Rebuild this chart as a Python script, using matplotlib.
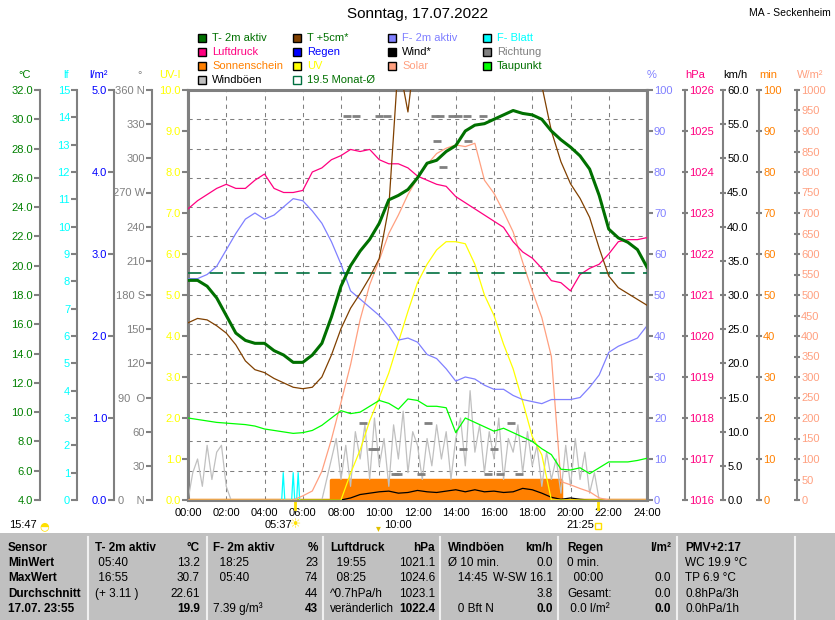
import numpy as np
import matplotlib.pyplot as plt
from matplotlib.patches import Rectangle

plt.rcParams['font.family'] = ['Liberation Sans', 'DejaVu Sans']

W, H = 835, 620

# --- data (half-hourly unless noted) ---
hours = np.arange(0, 24.01, 0.5)

t2m = [19.0, 19.0, 18.6, 17.8, 16.6, 15.4, 14.9, 14.7, 14.7, 14.2, 13.9, 13.4, 13.4,
       13.9, 14.7, 16.5, 18.6, 20.0, 21.0, 21.8, 22.9, 24.5, 24.8, 25.2, 26.0,
       27.0, 27.2, 27.8, 28.2, 29.2, 29.6, 29.7, 30.0, 30.3, 30.6, 30.4, 30.3,
       30.0, 29.2, 28.6, 28.1, 27.5, 26.6, 24.8, 22.5, 21.9, 21.6, 21.1, 19.9]
t5cm = [16.1, 16.4, 16.3, 15.9, 15.4, 14.6, 13.5, 12.9, 12.7, 12.3, 12.0, 11.7, 11.6,
        11.7, 12.4, 13.9, 15.7, 17.1, 18.1, 19.2, 20.5, 24.0, 34.0, 30.5, 36.0,
        38.0, 39.0, 40.0, 41.0, 41.0, 41.0, 40.0, 39.0, 38.0, 37.0, 36.0, 35.0,
        32.3, 29.2, 27.1, 25.6, 24.6, 23.3, 21.2, 19.3, 18.5, 18.1, 17.7, 17.3]
humidity = [54, 54, 55, 57, 61, 65, 68.5, 70, 68.5, 69.5, 71.5, 73.5, 73,
            70.5, 67.5, 63, 57.5, 51, 49, 47, 45, 42.5, 39, 39.5, 38.5,
            35.5, 34.5, 32, 29, 30, 29.5, 28, 27, 27, 25.5, 24.5, 24,
            23.5, 24.5, 24.5, 24.5, 25, 27.5, 30.5, 36, 37.5, 38.5, 39.5, 42.5]
pressure = [1023.1, 1023.3, 1023.45, 1023.6, 1023.7, 1023.6, 1023.6, 1023.8, 1023.95,
            1023.6, 1023.5, 1023.5, 1023.55,
            1024.0, 1024.1, 1024.3, 1024.4, 1024.55, 1024.5, 1024.55, 1024.3, 1024.2,
            1024.2, 1024.1, 1023.9,
            1023.8, 1023.7, 1023.65, 1023.4, 1023.25, 1023.1, 1022.95, 1022.8, 1022.65,
            1022.3, 1022.05, 1021.9,
            1021.65, 1021.35, 1021.3, 1021.1, 1021.5, 1021.65, 1021.75, 1022.0, 1022.3,
            1022.35, 1022.35, 1022.4]
solar = [0, 0, 0, 0, 0, 0, 0, 0, 0, 0, 0, 0, 10,
         22, 70, 148, 238, 330, 440, 525, 585, 650, 695, 745, 785,
         818, 845, 858, 866, 862, 870, 780, 748, 703, 654, 580, 510,
         445, 350, 45, 37, 28, 20, 5, 0, 0, 0, 0, 0]
uv = [0, 0, 0, 0, 0, 0, 0, 0, 0, 0, 0, 0, 0,
      0, 0, 0, 0, 0.65, 1.22, 1.93, 2.5, 3.1, 3.85, 4.6, 5.3,
      5.75, 6.1, 6.3, 6.3, 6.25, 5.75, 5.0, 4.5, 3.8, 3.2, 2.4, 1.55,
      1.1, 0, 0, 0, 0, 0, 0, 0, 0, 0, 0, 0]
dewpoint = [9.6, 9.5, 9.4, 9.3, 9.25, 9.2, 9.15, 9.05, 8.85, 8.75, 8.65, 8.55, 8.6,
            8.75, 9.1, 9.6, 10.1, 9.9, 10.0, 10.4, 10.8, 10.6, 10.2, 10.9, 10.8,
            10.4, 10.4, 10.3, 8.6, 9.6, 9.3, 9.0, 8.7, 8.9, 8.6, 8.3, 8.0,
            7.5, 7.1, 6.1, 6.05, 6.2, 5.8, 6.2, 6.6, 6.6, 6.6, 6.7, 6.85]
wind = [0, 0, 0, 0, 0, 0, 0, 0, 0, 0, 0, 0, 0,
        0, 0, 0, 0, 0.3, 0.8, 1.0, 1.2, 1.3, 1.0, 1.1, 1.4,
        1.2, 1.1, 1.3, 1.5, 1.2, 1.5, 1.2, 1.3, 1.1, 1.2, 1.7, 1.5,
        1.0, 0.4, 0.1, 0.3, 0.1, 0, 0, 0, 0, 0, 0, 0]
sunshine = [0, 0, 0, 0, 0, 0, 0, 0, 0, 0, 0, 0, 0, 0, 0,
            5, 5, 5, 5, 5, 5, 5, 5, 5, 5, 5, 5, 5, 5, 5, 5, 5, 5, 5, 5, 5, 5, 5, 5,
            0, 0, 0, 0, 0, 0, 0, 0, 0, 0]

# gusts every 15 min
gust_hours = np.arange(0, 24.01, 0.25)
gusts = [0, 4, 6, 2, 8, 3, 7, 8,
         2, 0, 0, 0, 0, 0, 0, 0,
         0, 0, 0, 0, 0, 0, 0, 0,
         0, 0, 0, 0, 0, 3, 6, 9,
         3, 8, 2, 10, 6, 11, 3, 12,
         5, 9, 2, 11, 6, 13, 4, 10,
         8, 3, 9, 5, 11, 6, 10, 3,
         9, 12, 5, 16, 7, 11, 4, 10,
         6, 12, 3, 9, 7, 11, 4, 10,
         5, 8, 2, 7, 3, 6, 1, 8,
         2, 9, 3, 7, 1, 4, 0, 0,
         0, 0, 0, 0, 0, 0, 0, 0, 0]

dir_hours = [8.3, 8.8, 10.0, 10.4, 12.9, 13.2, 13.8, 14.1, 14.6, 15.4,
             13.0, 14.65, 13.35, 9.17, 12.55, 16.9, 9.6, 9.8, 14.4, 16.0,
             10.8, 11.0, 12.2, 15.7, 16.3, 17.3]
dir_deg = [337.5, 337.5, 337.5, 337.5, 337.5, 337.5, 337.5, 337.5, 337.5, 337.5,
           315, 315, 292.5, 67.5, 67.5, 67.5, 45, 45, 45, 45,
           22.5, 22.5, 22.5, 22.5, 22.5, 22.5]

leaf_hours = [4.9, 4.98, 5.06, 5.42, 5.5, 5.58, 5.68, 5.76, 5.84]
leaf_wet = [0, 1, 0, 0, 1, 0, 0, 1, 0]

month_mean = 19.5
sunrise, sunset, moon_t, moonrise = '05:37', '21:25', '10:00', '15:47'

dir_labels = ['0    N', '30', '60', '90  O', '120', '150', '180 S', '210', '240',
              '270 W', '300', '330', '360 N']


def to_h(s):
    hh, mm = s.split(':')
    return int(hh) + int(mm) / 60


def fx(px):
    return px / W


def fy(py):
    return 1 - py / H


fig = plt.figure(figsize=(W / 100, H / 100), dpi=100)

# table background
fig.add_artist(Rectangle((0, 0), 1, fy(533), transform=fig.transFigure,
                         facecolor='#C0C0C0', edgecolor='none'))

L, R, T, B = 188, 647, 90, 500
ax = fig.add_axes([fx(L), fy(B), (R - L) / W, (B - T) / H])
ax.set_xlim(0, 24)
ax.set_ylim(4, 32)
ax.set_xticks(range(0, 25, 2))
ax.set_xticklabels([f'{h:02d}:00' for h in range(0, 25, 2)])
ax.set_yticks(np.arange(4, 33, 2))
ax.tick_params(axis='x', length=0, pad=6, labelsize=8)
ax.tick_params(axis='y', length=0)
ax.grid(True, color='#808080', linestyle=(0, (4, 4)), linewidth=0.75)
for s in ax.spines.values():
    s.set_color('#808080')
    s.set_linewidth(2.2)


def scale(lo, hi, step, px, side, color, fmt='{:.0f}', labels=None, tdir='out'):
    a = ax.twinx()
    a.set_ylim(lo, hi)
    ticks = np.arange(lo, hi + step / 2, step)
    a.set_yticks(ticks)
    a.set_yticklabels(labels if labels else [fmt.format(v) for v in ticks])
    a.yaxis.set_ticks_position(side)
    for name, sp in a.spines.items():
        sp.set_visible(name == side)
    sp = a.spines[side]
    sp.set_position(('axes', (px - L) / (R - L)))
    sp.set_color('#808080')
    sp.set_linewidth(1.5)
    a.tick_params(axis='y', colors='#808080', labelcolor=color, labelsize=8,
                  length=4, width=1.5, direction=tdir, pad=1)
    return a


# created in drawing order (bottom to top)
a_min = scale(0, 100, 10, 759, 'right', '#FF8000', tdir='inout')
a_min.fill_between(hours, sunshine, step='post', color='#FF8000', lw=0)
a_min.step(hours, sunshine, where='post', color='#FF8000', lw=2.5)

a_kmh = scale(0, 60, 5, 723, 'right', 'black', fmt='{:.1f}', tdir='inout')
a_kmh.plot(gust_hours, gusts, color='#C0C0C0', lw=0.9)
a_kmh.plot(hours, wind, color='black', lw=0.9)

a_dir = scale(0, 360, 30, 152, 'left', '#808080', labels=dir_labels)
a_dir.plot(dir_hours, dir_deg, ls='none', marker='_', ms=6, mew=2, color='#808080')

a_lf = scale(0, 15, 1, 77, 'left', '#00FFFF')
a_lf.plot(leaf_hours, leaf_wet, color='#00FFFF', lw=0.9)

a_rain = scale(0, 5, 1, 114, 'left', '#0000FF', fmt='{:.1f}')

a_uv = scale(0, 10, 1, 188, 'left', '#FFFF00', fmt='{:.1f}')
a_uv.plot(hours, uv, color='#FFFF00', lw=0.9)

a_sol = scale(0, 1000, 50, 797, 'right', '#FFA080', tdir='inout')
a_sol.plot(hours, solar, color='#FFA080', lw=0.9)

a_rh = scale(0, 100, 10, 647, 'right', '#8080FF')
a_rh.plot(hours, humidity, color='#8080FF', lw=0.9)

a_hpa = scale(1016, 1026, 1, 685, 'right', '#FF0080', tdir='inout')
a_hpa.plot(hours, pressure, color='#FF0080', lw=0.9)

a_t = scale(4, 32, 2, 40, 'left', '#008000', fmt='{:.1f}')
a_t.axhline(month_mean, color='#007040', lw=1.2, dashes=(8, 5))
a_t.plot(hours, t5cm, color='#804000', lw=0.9)
a_t.plot(hours, dewpoint, color='#00FF00', lw=0.9)
a_t.plot(hours, t2m, color='#007000', lw=2.2)

ax.set_yticklabels([])

# sunrise / sunset markers below the axis
for t in (sunrise, sunset):
    ax.axvline(to_h(t), ymin=-0.022, ymax=0, color='#FFE000', lw=2, clip_on=False)

# unit titles
units = [(25, '°C', '#008000'), (66, 'lf', '#00FFFF'), (98, 'l/m²', '#0000FF'),
         (140, '°', '#808080'), (170, 'UV-I', '#FFFF00'),
         (652, '%', '#8080FF'), (695, 'hPa', '#FF0080'), (735, 'km/h', 'black'),
         (768, 'min', '#FF8000'), (810, 'W/m²', '#FFA080')]
for x, txt, c in units:
    fig.text(fx(x), fy(75), txt, color=c, fontsize=8, ha='center', va='center')

fig.text(fx(418), fy(14), 'Sonntag, 17.07.2022', ha='center', va='center', fontsize=11)
fig.text(fx(790), fy(13), 'MA - Seckenheim', ha='center', va='center', fontsize=7.5)

# legend
leg = [(0, 0, 'T- 2m aktiv', '#007000', '#007000'),
       (1, 0, 'T +5cm*', '#804000', '#007000'),
       (2, 0, 'F- 2m aktiv', '#8080FF', '#8080FF'),
       (3, 0, 'F- Blatt', '#00FFFF', '#00FFFF'),
       (0, 1, 'Luftdruck', '#FF0080', '#FF0080'),
       (1, 1, 'Regen', '#0000FF', '#0000FF'),
       (2, 1, 'Wind*', '#000000', '#000000'),
       (3, 1, 'Richtung', '#808080', '#808080'),
       (0, 2, 'Sonnenschein', '#FF8000', '#FF8000'),
       (1, 2, 'UV', '#FFFF00', '#FFFF00'),
       (2, 2, 'Solar', '#FFA080', '#FFA080'),
       (3, 2, 'Taupunkt', '#00FF00', '#007000'),
       (0, 3, 'Windböen', '#C0C0C0', '#000000'),
       (1, 3, f'{month_mean} Monat-Ø', None, '#007000')]
col_x = [198, 293, 388, 483]
row_y = [38, 52, 66, 80]
for c, r, txt, face, tc in leg:
    x0, yc = col_x[c], row_y[r]
    fig.add_artist(Rectangle((fx(x0), fy(yc + 4)), 8 / W, 8 / H, transform=fig.transFigure,
                             facecolor=face if face else 'none',
                             edgecolor='black' if face else '#007040', lw=1))
    fig.text(fx(x0 + 14), fy(yc), txt, color=tc, fontsize=8, va='center')

# texts below the time axis
fig.text(fx(278), fy(525), sunrise, fontsize=8, ha='center', va='center')
fig.text(fx(296), fy(525), '☀', color='#FFE000', fontsize=9, ha='center', va='center',
         family='DejaVu Sans')
fig.text(fx(398), fy(525), moon_t, fontsize=8, ha='center', va='center')
fig.text(fx(378), fy(528), '▾', color='#E0C000', fontsize=7, ha='center', va='center',
         family='DejaVu Sans')
fig.text(fx(580), fy(525), sunset, fontsize=8, ha='center', va='center')
fig.add_artist(Rectangle((fx(595), fy(529)), 6 / W, 6 / H, transform=fig.transFigure,
                         facecolor='none', edgecolor='#FFE000', lw=1))
fig.text(fx(23), fy(525), moonrise, fontsize=8, ha='center', va='center')
fig.text(fx(44), fy(526), '◓', color='#FFE000', fontsize=8, ha='center', va='center',
         family='DejaVu Sans')

# bottom table
seps = [88, 207, 323, 440, 558, 677, 795]
for x in seps:
    fig.add_artist(plt.Line2D([fx(x), fx(x)], [fy(537), 0], transform=fig.transFigure,
                              color='#F0F0F0', lw=1.5))

table_y = [548, 563, 578, 594, 609]
row_names = ['Sensor', 'MinWert', 'MaxWert', 'Durchschnitt', '17.07. 23:55']
cols = [
    (95, 200, ['T- 2m aktiv', ' 05:40', ' 16:55', '(+ 3.11 )', ''],
     ['°C', '13.2', '30.7', '22.61', '19.9']),
    (213, 318, ['F- 2m aktiv', '  18:25', '  05:40', '', '7.39 g/m³'],
     ['%', '23', '74', '44', '43']),
    (330, 435, ['Luftdruck', '  19:55', '  08:25', '^0.7hPa/h', 'veränderlich'],
     ['hPa', '1021.1', '1024.6', '1023.1', '1022.4']),
    (448, 553, ['Windböen', 'Ø 10 min.', '   14:45', '', '   0 Bft N'],
     ['km/h', '0.0', 'W-SW 16.1', '3.8', '0.0']),
    (567, 671, ['Regen', '0 min.', '  00:00', 'Gesamt:', ' 0.0 l/m²'],
     ['l/m²', '', '0.0', '0.0', '0.0']),
    (685, None, ['PMV+2:17', 'WC 19.9 °C', 'TP 6.9 °C', '0.8hPa/3h', '0.0hPa/1h'], None),
]
for y, name in zip(table_y, row_names):
    fig.text(fx(8), fy(y), name, fontsize=8.5, weight='bold', va='center')
for xl, xr, lefts, rights in cols:
    for i, y in enumerate(table_y):
        fig.text(fx(xl), fy(y), lefts[i], fontsize=8.5, va='center',
                 weight='bold' if i == 0 else 'normal')
        if rights:
            fig.text(fx(xr), fy(y), rights[i], fontsize=8.5, va='center', ha='right',
                     weight='bold' if i in (0, 4) else 'normal')

fig.savefig('out.png', dpi=100)
